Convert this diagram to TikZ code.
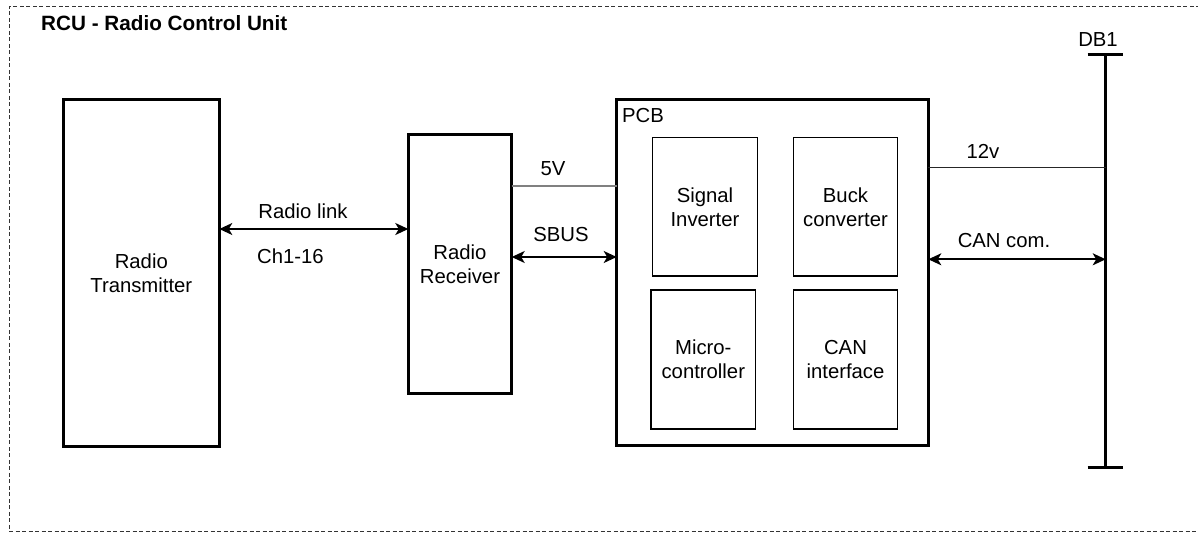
\documentclass[tikz,border=0pt]{standalone}
\usepackage{fontspec}
\setmainfont{Liberation Sans}
\usetikzlibrary{arrows.meta}
\newcommand{\lbl}{\fontsize{20.3}{24}\selectfont}
\tikzset{
  tip/.tip={Stealth[length=13pt,width=12pt,inset=3.5pt]},
  block/.style={draw, line width=3pt, inner sep=0pt, outer sep=0pt, align=center, font=\lbl},
  part/.style={draw, line width=1.3pt, inner sep=0pt, outer sep=0pt, align=center, font=\lbl},
  txt/.style={inner sep=0pt, anchor=base, font=\lbl},
  link/.style={line width=1.7pt, tip-tip},
  wire/.style={line width=1.4pt},
  frame/.style={line width=1pt, draw=black!80, dash pattern=on 4pt off 2.5pt}
}
\begin{document}
\begin{tikzpicture}[x=1pt,y=-1pt]
  \useasboundingbox (0,0) rectangle (1198,533);

  % enclosing unit boundary
  \draw[frame] (1200,6) -- (9.3,6) -- (9.3,531.5) -- (1200,531.5);
  \node[txt, anchor=base west, font=\fontsize{20.7}{24}\selectfont\bfseries] (title) at (41,30) {RCU - Radio Control Unit};

  % main blocks
  \node[block, minimum width=156pt, minimum height=347.3pt] (tx) at (141.3,272.9) {Radio\\Transmitter};
  \node[block, minimum width=103.4pt, minimum height=259pt] (rx) at (460,263.8) {Radio\\Receiver};
  \node[block, minimum width=311.6pt, minimum height=345.7pt] (pcb) at (772.5,272.8) {};
  \node[txt, anchor=base west] (pcblabel) at (622,122) {PCB};

  % parts on the PCB
  \node[part, minimum width=104.6pt, minimum height=138.3pt] (inv) at (705,206.8) {Signal\\Inverter};
  \node[part, minimum width=104.4pt, minimum height=138.3pt] (buck) at (845.5,206.8) {Buck\\converter};
  \node[part, minimum width=104.7pt, minimum height=139pt] (mcu) at (703.3,359.5) {Micro-\\controller};
  \node[part, minimum width=104.4pt, minimum height=139pt] (can) at (845.5,359.5) {CAN\\interface};

  % DB1 bus
  \coordinate (dbtop) at (1105.7,54);
  \coordinate (dbbot) at (1105.7,467.3);
  \draw[line width=3pt] (dbtop) -- (dbbot);
  \draw[line width=3pt] ([xshift=-18pt]dbtop) -- ([xshift=17pt]dbtop);
  \draw[line width=3pt] ([xshift=-18pt]dbbot) -- ([xshift=17pt]dbbot);
  \node[txt] (dblabel) at (1098,46) {DB1};

  % radio link
  \draw[link] (tx.east |- 0,229) -- (rx.west |- 0,229);
  \node[txt] (rl) at (303,218) {Radio link};
  \node[txt, anchor=base west] (ch) at (257,263) {Ch1-16};

  % receiver to PCB
  \draw[wire, draw=black!50] (rx.east |- 0,186) -- (pcb.west |- 0,186);
  \node[txt] (v5) at (553,175) {5V};
  \draw[link] (rx.east |- 0,257) -- (pcb.west |- 0,257);
  \node[txt] (sbus) at (561,241) {SBUS};

  % PCB to DB1
  \draw[line width=1.2pt, draw=black!85] (pcb.east |- 0,167.7) -- (dbtop |- 0,167.7);
  \node[txt] (v12) at (983,158) {12v};
  \draw[link] (pcb.east |- 0,259.3) -- (dbtop |- 0,259.3);
  \node[txt] (cancom) at (1004,247) {CAN com.};
\end{tikzpicture}
\end{document}
